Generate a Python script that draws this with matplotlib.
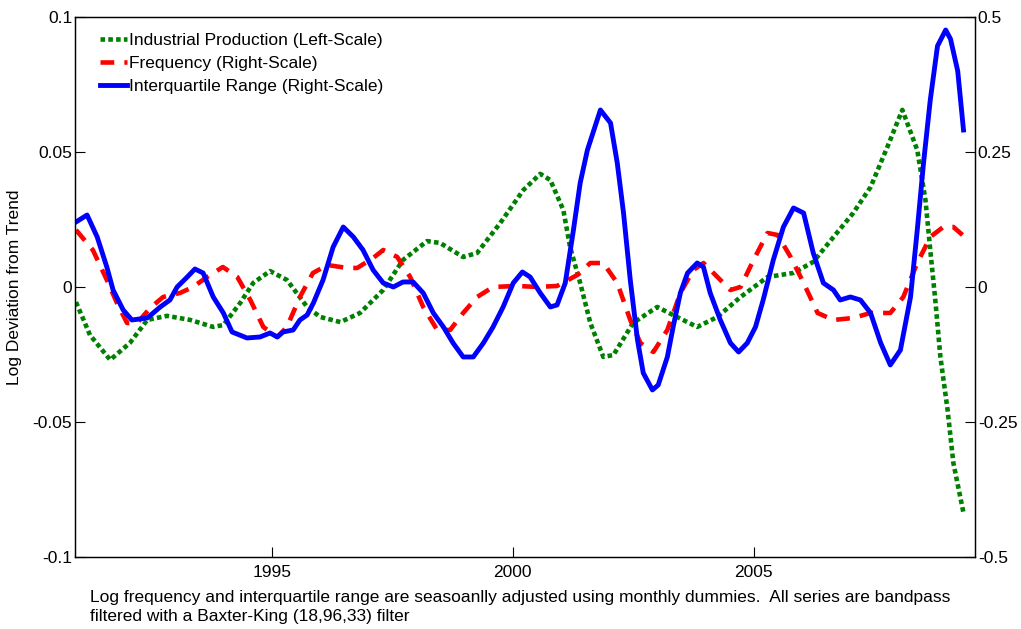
import numpy as np
import matplotlib
matplotlib.use("Agg")
import matplotlib.pyplot as plt

plt.rcParams['font.family'] = ['Liberation Sans', 'DejaVu Sans']
plt.rcParams['font.size'] = 12.5

# industrial production, left scale
ip_year = [1990.93, 1991.22, 1991.64, 1992.05, 1992.41, 1992.82, 1993.30, 1993.78, 1993.99,
           1994.34, 1994.61, 1994.96, 1995.31, 1995.73, 1996.00, 1996.42, 1996.83, 1997.31,
           1997.72, 1998.22, 1998.49, 1998.97, 1999.26, 1999.74, 2000.22, 2000.57, 2000.78,
           2001.05, 2001.19, 2001.40, 2001.61, 2001.88, 2002.09, 2002.50, 2003.00, 2003.33,
           2003.83, 2004.25, 2004.73, 2005.29, 2005.83, 2006.24, 2006.66, 2007.07, 2007.43,
           2007.78, 2008.09, 2008.40, 2008.57, 2008.67, 2008.78, 2008.88, 2009.03, 2009.15,
           2009.36]
ip_val = [-0.0056, -0.0178, -0.0270, -0.0207, -0.0122, -0.0107, -0.0122, -0.0148, -0.0141,
          -0.0059, 0.0015, 0.0059, 0.0026, -0.0074, -0.0111, -0.0130, -0.0096, -0.0011,
          0.0100, 0.0170, 0.0163, 0.0111, 0.0126, 0.0237, 0.0359, 0.0419, 0.0396,
          0.0285, 0.0148, 0.0015, -0.0133, -0.0259, -0.0252, -0.0133, -0.0074, -0.0104,
          -0.0148, -0.0111, -0.0037, 0.0037, 0.0052, 0.0093, 0.0185, 0.0274, 0.0370,
          0.0519, 0.0656, 0.0507, 0.0322, 0.0137, -0.0059, -0.0259, -0.0456, -0.0652,
          -0.0837]

# frequency, right scale
fr_year = [1990.93, 1991.28, 1991.57, 1991.78, 1991.99, 1992.20, 1992.47, 1992.74, 1993.09,
           1993.36, 1993.65, 1993.98, 1994.28, 1994.55, 1994.82, 1995.11, 1995.31, 1995.58,
           1995.85, 1996.15, 1996.56, 1996.77, 1997.10, 1997.31, 1997.60, 1997.87, 1998.14,
           1998.43, 1998.70, 1998.97, 1999.26, 1999.59, 2000.09, 2000.51, 2000.92, 2001.34,
           2001.61, 2001.88, 2002.17, 2002.44, 2002.65, 2002.92, 2003.21, 2003.48, 2003.75,
           2003.96, 2004.25, 2004.52, 2004.73, 2005.00, 2005.29, 2005.50, 2005.77, 2006.04,
           2006.33, 2006.66, 2007.07, 2007.43, 2007.84, 2008.11, 2008.40, 2008.67, 2008.94,
           2009.15, 2009.34]
fr_val = [0.1056, 0.0685, 0.0130, -0.0296, -0.0667, -0.0667, -0.0389, -0.0185, -0.0111,
          0.0, 0.0185, 0.0370, 0.0185, -0.0241, -0.0741, -0.0926, -0.0741, -0.0185,
          0.0259, 0.0407, 0.0352, 0.0352, 0.0537, 0.0685, 0.0556, 0.0185, -0.0370,
          -0.0796, -0.0796, -0.0481, -0.0185, 0.0, 0.0019, 0.0, 0.0019, 0.0222,
          0.0444, 0.0444, 0.0074, -0.0611, -0.1037, -0.1204, -0.0796, -0.0111, 0.0315,
          0.0444, 0.0185, -0.0056, 0.0, 0.0500, 0.1000, 0.0963, 0.0556, 0.0074,
          -0.0481, -0.0611, -0.0574, -0.0481, -0.0481, -0.0185, 0.0444, 0.0926, 0.1111,
          0.1111, 0.0963]

# interquartile range, right scale
iqr_year = [1990.93, 1991.16, 1991.37, 1991.57, 1991.70, 1991.91, 1992.09, 1992.41, 1992.68,
            1992.88, 1993.03, 1993.24, 1993.40, 1993.57, 1993.78, 1993.99, 1994.17, 1994.48,
            1994.75, 1994.96, 1995.11, 1995.23, 1995.44, 1995.58, 1995.73, 1995.86, 1996.06,
            1996.27, 1996.48, 1996.69, 1996.89, 1997.10, 1997.31, 1997.52, 1997.72, 1997.93,
            1998.14, 1998.35, 1998.56, 1998.76, 1998.97, 1999.18, 1999.39, 1999.59, 1999.80,
            2000.01, 2000.20, 2000.36, 2000.57, 2000.78, 2000.92, 2001.09, 2001.26, 2001.40,
            2001.55, 2001.82, 2002.03, 2002.17, 2002.30, 2002.44, 2002.59, 2002.71, 2002.90,
            2003.02, 2003.21, 2003.33, 2003.48, 2003.63, 2003.83, 2003.96, 2004.10, 2004.31,
            2004.52, 2004.69, 2004.87, 2005.04, 2005.20, 2005.41, 2005.62, 2005.83, 2006.04,
            2006.24, 2006.45, 2006.66, 2006.80, 2007.01, 2007.22, 2007.43, 2007.64, 2007.84,
            2008.05, 2008.26, 2008.40, 2008.53, 2008.67, 2008.82, 2008.99, 2009.09, 2009.24,
            2009.36]
iqr_val = [0.1204, 0.1333, 0.0926, 0.0370, -0.0056, -0.0426, -0.0611, -0.0574, -0.0370,
           -0.0241, 0.0, 0.0185, 0.0333, 0.0259, -0.0185, -0.0481, -0.0833, -0.0944,
           -0.0926, -0.0852, -0.0926, -0.0833, -0.0796, -0.0611, -0.0519, -0.0296, 0.0130,
           0.0741, 0.1111, 0.0926, 0.0685, 0.0315, 0.0074, 0.0, 0.0093, 0.0093,
           -0.0111, -0.0481, -0.0741, -0.1037, -0.1296, -0.1296, -0.1037, -0.0741, -0.0370,
           0.0074, 0.0278, 0.0185, -0.0111, -0.0370, -0.0333, 0.0074, 0.1056, 0.1926,
           0.2537, 0.3278, 0.3037, 0.2296, 0.1370, 0.0130, -0.0981, -0.1593, -0.1907,
           -0.1815, -0.1296, -0.0741, -0.0111, 0.0259, 0.0444, 0.0370, -0.0111, -0.0611,
           -0.1037, -0.1204, -0.1037, -0.0741, -0.0241, 0.0500, 0.1111, 0.1463, 0.1370,
           0.0630, 0.0074, -0.0056, -0.0241, -0.0185, -0.0241, -0.0481, -0.1037, -0.1444,
           -0.1167, -0.0185, 0.1056, 0.2296, 0.3463, 0.4463, 0.4759, 0.4593, 0.4000,
           0.2907]

left_ticks = [-0.1, -0.05, 0, 0.05, 0.1]
left_labels = ['-0.1', '-0.05', '0', '0.05', '0.1']
right_ticks = [-0.5, -0.25, 0, 0.25, 0.5]
right_labels = ['-0.5', '-0.25', '0', '0.25', '0.5']
year_ticks = [1995, 2000, 2005]

fig = plt.figure(figsize=(10.21, 6.29), dpi=100)
ax = fig.add_axes([0.0735, 0.1145, 0.8815, 0.8585])
ax2 = ax.twinx()

l1, = ax.plot(ip_year, ip_val, color='green', lw=3.3, linestyle=(0, (1, 0.7)),
              dash_capstyle='butt', label='Industrial Production (Left-Scale)')
l2, = ax2.plot(fr_year, fr_val, color='red', lw=3.3, linestyle=(0, (3, 2.2)),
               label='Frequency (Right-Scale)')
l3, = ax2.plot(iqr_year, iqr_val, color='blue', lw=3.5, label='Interquartile Range (Right-Scale)')

ax.set_xlim(1990.91, 2009.6)
ax.set_ylim(-0.1, 0.1)
ax2.set_ylim(-0.5, 0.5)
ax.set_xticks(year_ticks)
ax.set_yticks(left_ticks)
ax.set_yticklabels(left_labels)
ax2.set_yticks(right_ticks)
ax2.set_yticklabels(right_labels)

ax.tick_params(axis='x', direction='in', length=7, pad=6, labelsize=12.5)
ax.tick_params(axis='y', direction='in', length=7, pad=2, labelsize=12.5)
ax2.tick_params(axis='y', direction='in', length=7, pad=2, labelsize=12.5)
for a in (ax, ax2):
    for s in a.spines.values():
        s.set_linewidth(0.9)

ax.set_ylabel('Log Deviation from Trend', fontsize=12.5, labelpad=8)

ax2.legend(handles=[l1, l2, l3], loc='upper left', frameon=False, fontsize=12.5,
           handlelength=1.6, handletextpad=0.1, labelspacing=0.47,
           borderaxespad=0.5, bbox_to_anchor=(0.01, 1.0))

fig.text(0.088, 0.062,
         'Log frequency and interquartile range are seasoanlly adjusted using monthly dummies.  '
         'All series are bandpass\nfiltered with a Baxter-King (18,96,33) filter',
         fontsize=12.5, ha='left', va='top', linespacing=1.3)

fig.savefig('out.png', dpi=100)
